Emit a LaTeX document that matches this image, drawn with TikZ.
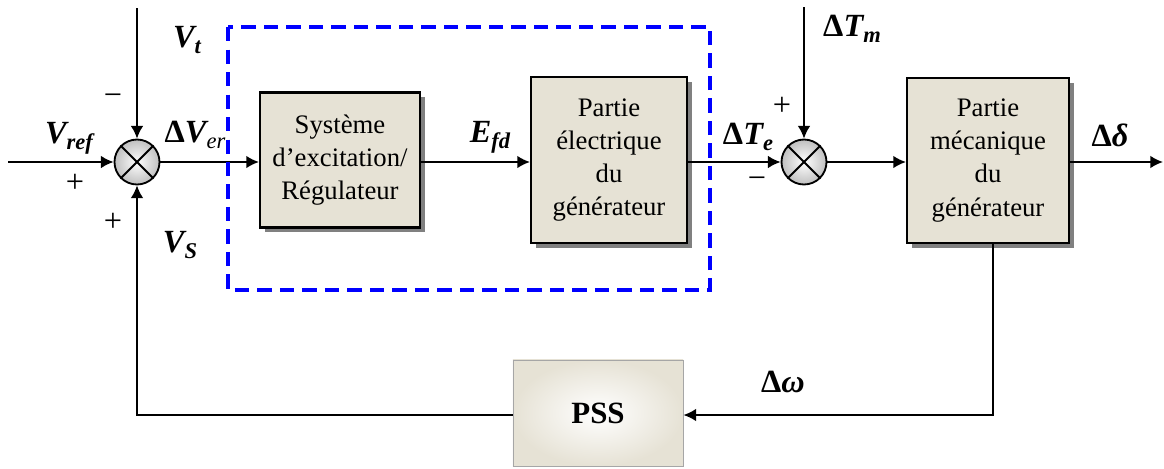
\documentclass[tikz,border=0pt]{standalone}
\usepackage{fontspec}
\setmainfont{Liberation Serif}
\usetikzlibrary{arrows.meta, shadows, positioning}
\definecolor{blockbeige}{RGB}{230,226,213}
\definecolor{dashblue}{RGB}{0,0,255}
\newcommand{\lowsub}[1]{\raisebox{-0.4ex}{\fontsize{16}{16}\selectfont #1}}
\tikzset{
    blockbox/.style={draw=black, line width=1.5pt, fill=blockbeige, align=center, font=\fontsize{19}{23.5}\selectfont, drop shadow={shadow xshift=3.5pt, shadow yshift=-3.5pt, fill=black!50, opacity=1}},
    pssbox/.style={draw=black!35, line width=0.6pt, shading=radial, inner color=white, outer color=blockbeige, font=\fontsize{22}{24}\selectfont\bfseries},
    sumnode/.style={circle, draw=black, line width=1.3pt, minimum size=32pt, inner sep=0pt, shading=radial, inner color=white, outer color=black!25},
    sigarrow/.style={-{Latex[length=9pt,width=9pt]}, line width=1.3pt},
    dashbox/.style={draw=dashblue, line width=2.4pt, dash pattern=on 10pt off 6pt},
    siglabel/.style={font=\fontsize{23}{26}\selectfont\bfseries\itshape},
    signlabel/.style={font=\fontsize{23}{26}\selectfont}
}
\begin{document}
\begin{tikzpicture}[x=0.025cm,y=-0.025cm]
            \useasboundingbox (0,0) rectangle (1164,468);
            % blocks
            \node[blockbox, minimum width=4cm, minimum height=3.375cm] (exc) at (340,160) {Système\\d’excitation/\\Régulateur};
            \node[blockbox, minimum width=3.9cm, minimum height=4.15cm] (elec) at (609,160) {Partie\\électrique\\du\\générateur};
            \node[blockbox, minimum width=4.05cm, minimum height=4.125cm] (meca) at (988,160.5) {Partie\\mécanique\\du\\générateur};
            \node[pssbox, minimum width=4.25cm, minimum height=2.65cm] (pss) at (598,413) {PSS};
            % summing points
            \node[sumnode] (s1) at (137,162) {};
            \node[sumnode] (s2) at (804,162) {};
            \foreach \s in {s1,s2} {
                \draw[line width=1.3pt] (\s.north west) -- (\s.south east);
                \draw[line width=1.3pt] (\s.north east) -- (\s.south west);
            }
            \coordinate (vref) at (8,162);
            \coordinate (vt) at (137,8);
            \coordinate (tm) at (804,7);
            \coordinate (out) at (1163,162);
            \coordinate (fb) at (993,415);
            % signals
            \draw[sigarrow] (vref) -- (s1);
            \draw[sigarrow] (vt) -- (s1);
            \draw[sigarrow] (s1) -- (s1 -| exc.west);
            \draw[sigarrow] (exc.east |- s1) -- (s1 -| elec.west);
            \draw[sigarrow] (elec.east |- s1) -- (s2);
            \draw[sigarrow] (tm) -- (s2);
            \draw[sigarrow] (s2) -- (s2 -| meca.west);
            \draw[sigarrow] (meca.east |- s2) -- (out);
            \draw[sigarrow] (meca.south -| fb) -- (fb) -- (fb -| pss.east);
            \draw[sigarrow] (fb -| pss.west) -- (fb -| s1) -- (s1);
            \draw[dashbox] (228,27) rectangle (710,290);
            % labels
            \node[siglabel] (vtlbl) at (187,40) {V\lowsub{t}};
            \node[siglabel] (vreflbl) at (69,138) {V\lowsub{ref}};
            \node[siglabel] (vslbl) at (180,245) {V\lowsub{S}};
            \node[siglabel] (verlbl) at (195,135) {{\upshape Δ}V{\mdseries\lowsub{er}}};
            \node[siglabel] (efdlbl) at (490,137) {E\lowsub{fd}};
            \node[siglabel] (telbl) at (748,137) {{\upshape Δ}T\lowsub{e}};
            \node[siglabel] (tmlbl) at (852,29) {{\upshape Δ}T\lowsub{m}};
            \node[siglabel] (dlbl) at (1110,135) {{\upshape Δ}δ};
            \node[siglabel] (wlbl) at (783,382) {{\upshape Δ}ω};
            \node[signlabel] (m1) at (113,100) {−};
            \node[signlabel] (p1) at (75,183) {+};
            \node[signlabel] (p2) at (113,222) {+};
            \node[signlabel] (p3) at (782,106) {+};
            \node[signlabel] (m2) at (757,183) {−};
\end{tikzpicture}
\end{document}
